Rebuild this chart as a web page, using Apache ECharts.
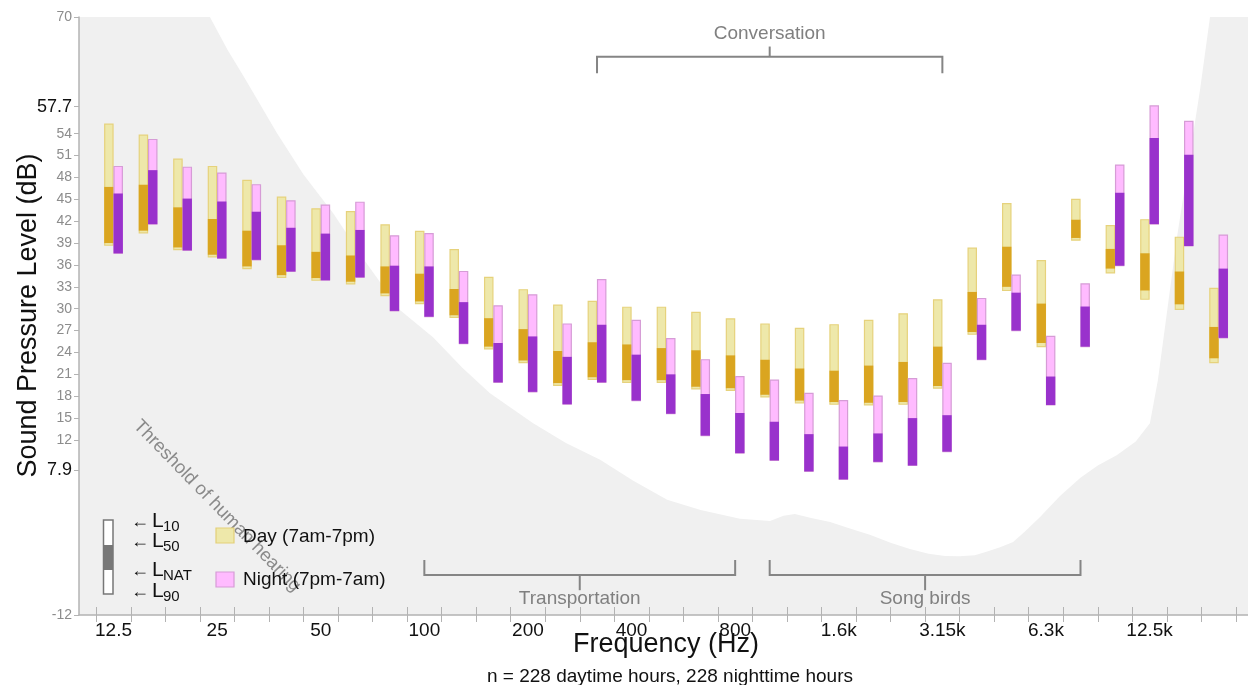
<!DOCTYPE html>
<html><head><meta charset="utf-8">
<script src="https://cdn.jsdelivr.net/npm/echarts@6/dist/echarts.min.js"></script>
<style>html,body{margin:0;padding:0;background:#fff}#c{width:1248px;height:685px}</style>
</head><body><div id="c"></div>
<script>
// ---- data ----
const freqLabels = ['12.5','16','20','25','31.5','40','50','63','80','100','125','160','200','250','315','400','500','630','800','1k','1.25k','1.6k','2k','2.5k','3.15k','4k','5k','6.3k','8k','10k','12.5k','16k','20k'];
const xLabelIndices = [0,3,6,9,12,15,18,21,24,27,30];

const dayL10  = [55.3,53.8,50.5,49.5,47.6,45.3,43.7,43.3,41.5,40.6,38.1,34.3,32.6,30.5,31.0,30.2,30.2,29.5,28.6,27.9,27.3,27.8,28.4,29.3,31.2,38.3,44.4,36.6,45.0,41.4,42.2,39.8,32.8];
const dayL50  = [46.7,47.0,43.9,42.3,40.7,38.7,37.8,37.3,35.8,34.8,32.7,28.7,27.2,24.2,25.4,25.1,24.6,24.3,23.6,23.0,21.8,21.5,22.2,22.7,24.8,32.3,38.5,30.7,42.2,38.2,37.6,35.1,27.5];
const dayLNAT = [39.0,40.7,38.4,37.4,35.8,34.6,34.2,33.7,32.1,31.0,29.1,24.8,22.9,19.8,20.6,20.2,20.2,19.3,19.1,18.2,17.4,17.2,17.1,17.2,19.4,26.8,33.0,25.3,39.7,35.5,32.5,30.6,23.2];
const dayL90  = [38.7,40.4,38.1,37.1,35.5,34.3,33.9,33.4,31.8,30.7,28.8,24.5,22.6,19.5,20.3,19.9,19.9,19.0,18.8,17.9,17.1,16.9,16.8,16.9,19.1,26.5,32.5,24.8,39.4,34.9,31.3,29.9,22.6];

const nightL10  = [49.5,53.2,49.4,48.6,47.0,44.8,44.2,44.6,40.0,40.3,35.1,30.4,31.9,27.9,34.0,28.4,25.9,23.0,20.7,20.2,18.4,17.4,18.0,20.4,22.5,31.4,34.6,26.2,33.4,49.7,57.8,55.7,40.1];
const nightL50  = [45.8,49.0,45.1,44.7,43.3,41.1,40.3,40.8,35.9,35.8,30.9,25.3,26.2,23.4,27.8,23.7,21.0,18.3,15.7,14.5,12.8,11.1,12.9,15.0,15.4,27.8,32.2,20.7,30.3,45.9,53.4,51.1,35.5];
const nightLNAT = [37.6,41.6,38.0,36.9,36.7,35.1,33.9,34.3,29.7,28.9,25.2,19.9,18.6,16.9,19.9,17.4,15.6,12.6,10.2,9.2,7.7,6.6,9.0,8.5,10.4,23.0,27.0,16.8,24.8,35.9,41.6,38.6,26.0];
const nightL90  = [37.6,41.6,38.0,36.9,36.7,35.1,33.9,34.3,29.7,28.9,25.2,19.9,18.6,16.9,19.9,17.4,15.6,12.6,10.2,9.2,7.7,6.6,9.0,8.5,10.4,23.0,27.0,16.8,24.8,35.9,41.6,38.6,26.0];

// threshold of human hearing: [band index, dB]
const hearingThreshold = [[-1,70],[2.79,70],[3.3,65.5],[3.8,61.6],[4.73,54.1],[5.5,48.4],[6.36,43.1],[7.3,36.4],[8.3,29.8],[9.25,26.1],[10.1,21.9],[10.9,18.4],[12.15,14.3],[13.1,11.6],[14.09,9.3],[15.05,6.4],[16.03,3.8],[17.0,2.4],[18.14,1.2],[19.01,0.9],[19.4,1.6],[19.73,1.85],[20.2,1.3],[20.75,0.75],[21.3,-0.1],[21.9,-1.0],[22.5,-2.1],[23.06,-2.95],[23.6,-3.6],[24.08,-3.9],[24.5,-3.95],[24.94,-3.8],[25.3,-3.3],[25.67,-2.7],[26.05,-2.0],[26.4,-0.5],[26.83,1.45],[27.4,4.3],[27.99,6.8],[28.5,8.5],[29.06,9.95],[29.6,11.8],[30.01,14.3],[30.24,20.2],[30.8,40.0],[31.46,60.0],[31.75,70],[32.85,70]];

const yTickValues = [70,57.7,54,51,48,45,42,39,36,33,30,27,24,21,18,15,12,7.9,-12];

// source bands [from index, to index, label]
const sourceBrackets = [[14,24,'Conversation'],[9,18,'Transportation'],[19,28,'Song birds']];

// ---- chart ----
const FONT = "'Liberation Sans', Arial, sans-serif";
const boundaries = [];
for (let i = -1; i < freqLabels.length; i++) boundaries.push(i + 0.5);

const dayData = freqLabels.map((_, i) => [i, dayL10[i], dayL50[i], dayLNAT[i], dayL90[i]]);
const nightData = freqLabels.map((_, i) => [i, nightL10[i], nightL50[i], nightLNAT[i], nightL90[i]]);

function makeBarRenderer(side, light, border, dark) {
  return function (params, api) {
    const i = api.value(0);
    const top = api.coord([i, api.value(1)]);
    const mid = api.coord([i, api.value(2)]);
    const nat = api.coord([i, api.value(3)]);
    const bot = api.coord([i, api.value(4)]);
    const w = api.size([1, 0])[0] * 0.27;
    const x0 = side === 'day' ? top[0] - w : top[0];
    return {
      type: 'group',
      children: [
        { type: 'rect', shape: { x: x0 + 0.5, y: top[1], width: w - 1, height: bot[1] - top[1] },
          style: { fill: light, stroke: border, lineWidth: 1.2 } },
        { type: 'rect', shape: { x: x0, y: mid[1], width: w, height: nat[1] - mid[1] },
          style: { fill: dark } }
      ]
    };
  };
}

function renderBracket(params, api) {
  const a = api.value(0), b = api.value(1);
  const name = sourceBrackets[params.dataIndex][2];
  const isTop = params.dataIndex === 0;
  const yH = isTop ? 64.55 : -6.5;
  const yEnd = isTop ? 62.3 : -4.45;
  const yTick = isTop ? 65.95 : -8.6;
  const yLab = isTop ? 67.65 : -9.8;
  const p1 = api.coord([a, yH]), p2 = api.coord([b, yH]);
  const e1 = api.coord([a, yEnd]);
  const cx = (p1[0] + p2[0]) / 2;
  const t = api.coord([a, yTick]);
  const l = api.coord([a, yLab]);
  return {
    type: 'group',
    children: [
      { type: 'polyline', shape: { points: [[p1[0], e1[1]], [p1[0], p1[1]], [p2[0], p2[1]], [p2[0], e1[1]]] },
        style: { stroke: '#858585', lineWidth: 2, fill: null } },
      { type: 'line', shape: { x1: cx, y1: p1[1], x2: cx, y2: t[1] }, style: { stroke: '#858585', lineWidth: 2 } },
      { type: 'text', x: cx, y: l[1], style: { text: name, fill: '#808080', fontSize: 19, fontFamily: FONT, align: 'center', verticalAlign: 'middle' } }
    ]
  };
}

const chart = echarts.init(document.getElementById('c'), null, { renderer: 'canvas' });
const axisGray = '#b3b3b3';
chart.setOption({
  animation: false,
  backgroundColor: '#ffffff',
  grid: { left: 79, right: 0, top: 17, bottom: 70, containLabel: false },
  xAxis: [{
    type: 'value', min: -1, max: 32.85, position: 'bottom', z: 20,
    axisLine: { show: true, onZero: false, lineStyle: { color: axisGray, width: 1.5 } },
    axisTick: { show: true, customValues: boundaries, length: 7, inside: false, lineStyle: { color: axisGray, width: 1 } },
    axisLabel: { show: true, customValues: xLabelIndices, margin: 6, color: '#111', fontSize: 19, fontFamily: FONT,
      formatter: v => freqLabels[Math.round(v)] },
    splitLine: { show: false }
  }, {
    type: 'value', min: -1, max: 32.85, position: 'bottom', z: 20,
    axisLine: { show: false, onZero: false },
    axisTick: { show: true, customValues: boundaries, length: 8, inside: true, lineStyle: { color: axisGray, width: 1 } },
    axisLabel: { show: false },
    splitLine: { show: false }
  }],
  yAxis: {
    type: 'value', min: -12, max: 70, z: 20,
    axisLine: { show: true, onZero: false, lineStyle: { color: axisGray, width: 1.5 } },
    axisTick: { show: true, customValues: yTickValues, length: 5, lineStyle: { color: axisGray } },
    axisLabel: {
      show: true, customValues: yTickValues, margin: 7,
      formatter: v => (v === 57.7 || v === 7.9) ? '{b|' + v + '}' : '{g|' + v + '}',
      rich: {
        b: { color: '#111', fontSize: 18, fontFamily: FONT },
        g: { color: '#8c8c8c', fontSize: 14, fontFamily: FONT }
      }
    },
    splitLine: { show: false }
  },
  series: [
    {
      type: 'line', data: hearingThreshold, xAxisIndex: 0, symbol: 'none', smooth: false,
      lineStyle: { width: 0, color: '#f0f0f0' }, areaStyle: { color: '#f0f0f0', opacity: 1, origin: 'start' },
      silent: true, z: 1
    },
    {
      type: 'custom', xAxisIndex: 0, data: dayData, encode: { x: 0, y: [1, 4] }, z: 3,
      renderItem: makeBarRenderer('day', '#EEE8AA', '#E6D27C', '#DAA520')
    },
    {
      type: 'custom', xAxisIndex: 0, data: nightData, encode: { x: 0, y: [1, 4] }, z: 4,
      renderItem: makeBarRenderer('night', '#FFBBFF', '#D69CD6', '#9932CC')
    },
    {
      type: 'custom', xAxisIndex: 0, data: sourceBrackets.map(d => [d[0], d[1]]), encode: { x: [0, 1] }, z: 5,
      renderItem: renderBracket, clip: false, silent: true
    }
  ],
  graphic: [
    { type: 'text', x: 29, y: 315.5, rotation: Math.PI / 2, z: 10,
      style: { text: 'Sound Pressure Level (dB)', fill: '#111', fontSize: 27, fontFamily: FONT, align: 'center', verticalAlign: 'middle' } },
    { type: 'text', x: 666, y: 645, z: 10,
      style: { text: 'Frequency (Hz)', fill: '#111', fontSize: 27, fontFamily: FONT, align: 'center', verticalAlign: 'middle' } },
    { type: 'text', x: 670, y: 677, z: 10,
      style: { text: 'n = 228 daytime hours, 228 nighttime hours', fill: '#111', fontSize: 19, fontFamily: FONT, align: 'center', verticalAlign: 'middle' } },
    { type: 'text', x: 217, y: 506, rotation: -45.8 * Math.PI / 180, z: 10,
      style: { text: 'Threshold of human hearing', fill: '#8a8a8a', fontSize: 18.5, fontFamily: FONT, align: 'center', verticalAlign: 'middle' } },
    // L-level key
    { type: 'rect', shape: { x: 103.5, y: 520, width: 9.5, height: 74 }, z: 10, style: { fill: '#fff', stroke: '#777', lineWidth: 1.5 } },
    { type: 'rect', shape: { x: 103.5, y: 545, width: 9.5, height: 25 }, z: 11, style: { fill: '#777' } },
    { type: 'text', x: 131, y: 522, z: 10, style: { text: '←', fill: '#111', fontSize: 18, fontFamily: FONT, verticalAlign: 'middle' } },
    { type: 'text', x: 152, y: 521.5, z: 10, style: { text: 'L', fill: '#111', fontSize: 21, fontFamily: FONT, verticalAlign: 'middle' } },
    { type: 'text', x: 163, y: 526.5, z: 10, style: { text: '10', fill: '#111', fontSize: 15, fontFamily: FONT, verticalAlign: 'middle' } },
    { type: 'text', x: 131, y: 542, z: 10, style: { text: '←', fill: '#111', fontSize: 18, fontFamily: FONT, verticalAlign: 'middle' } },
    { type: 'text', x: 152, y: 541.5, z: 10, style: { text: 'L', fill: '#111', fontSize: 21, fontFamily: FONT, verticalAlign: 'middle' } },
    { type: 'text', x: 163, y: 546.5, z: 10, style: { text: '50', fill: '#111', fontSize: 15, fontFamily: FONT, verticalAlign: 'middle' } },
    { type: 'text', x: 131, y: 571, z: 10, style: { text: '←', fill: '#111', fontSize: 18, fontFamily: FONT, verticalAlign: 'middle' } },
    { type: 'text', x: 152, y: 570, z: 10, style: { text: 'L', fill: '#111', fontSize: 21, fontFamily: FONT, verticalAlign: 'middle' } },
    { type: 'text', x: 163, y: 575.5, z: 10, style: { text: 'NAT', fill: '#111', fontSize: 15, fontFamily: FONT, verticalAlign: 'middle' } },
    { type: 'text', x: 131, y: 592, z: 10, style: { text: '←', fill: '#111', fontSize: 18, fontFamily: FONT, verticalAlign: 'middle' } },
    { type: 'text', x: 152, y: 591.5, z: 10, style: { text: 'L', fill: '#111', fontSize: 21, fontFamily: FONT, verticalAlign: 'middle' } },
    { type: 'text', x: 163, y: 596.5, z: 10, style: { text: '90', fill: '#111', fontSize: 15, fontFamily: FONT, verticalAlign: 'middle' } },
    // Day / Night key
    { type: 'rect', shape: { x: 216, y: 528, width: 18, height: 15 }, z: 10, style: { fill: '#EEE8AA', stroke: '#E3CF78', lineWidth: 1.2 } },
    { type: 'text', x: 243, y: 536.5, z: 10, style: { text: 'Day (7am-7pm)', fill: '#111', fontSize: 19, fontFamily: FONT, verticalAlign: 'middle' } },
    { type: 'rect', shape: { x: 216, y: 572, width: 18, height: 15 }, z: 10, style: { fill: '#FFBBFF', stroke: '#D69CD6', lineWidth: 1.2 } },
    { type: 'text', x: 243, y: 580, z: 10, style: { text: 'Night (7pm-7am)', fill: '#111', fontSize: 19, fontFamily: FONT, verticalAlign: 'middle' } }
  ]
});
</script>
</body></html>
